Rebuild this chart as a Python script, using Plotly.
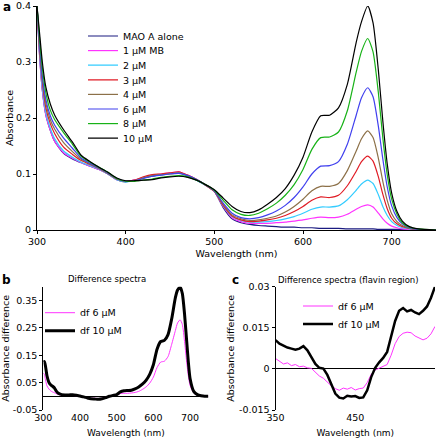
import plotly.graph_objects as go

# ---------------- Panel a data ----------------
wl_a = [300, 303, 306, 310, 315, 320, 330, 340, 350, 360, 370, 380, 390, 400, 410, 420, 430, 440, 450, 460, 470, 480, 490,
        500, 510, 520, 530, 540, 550, 560, 570, 580, 590, 600, 610, 620, 630, 640, 650, 660, 666, 673, 679, 685, 690, 695,
        700, 706, 712, 720, 730, 750]

mao_alone = [0.40, 0.31, 0.25, 0.205, 0.178, 0.158, 0.137, 0.127, 0.12, 0.114, 0.108, 0.1, 0.09, 0.086, 0.089, 0.093, 0.096, 0.099, 0.101, 0.102, 0.097, 0.089, 0.08,
             0.069, 0.04, 0.02, 0.013, 0.01, 0.008, 0.007, 0.006, 0.005, 0.005, 0.004, 0.004, 0.003, 0.003, 0.003, 0.002, 0.002, 0.002, 0.002, 0.002, 0.001, 0.001, 0.001,
             0.001, 0.001, 0.001, 0.001, 0.0, 0.0]
mb_1 = [0.40, 0.31, 0.25, 0.205, 0.178, 0.158, 0.138, 0.128, 0.12, 0.114, 0.108, 0.1, 0.09, 0.087, 0.089, 0.094, 0.098, 0.1, 0.102, 0.104, 0.098, 0.09, 0.081,
        0.069, 0.042, 0.022, 0.015, 0.012, 0.012, 0.012, 0.013, 0.014, 0.016, 0.018, 0.021, 0.023, 0.022, 0.023, 0.028, 0.037, 0.042, 0.045, 0.041, 0.03, 0.02, 0.012,
        0.007, 0.004, 0.002, 0.001, 0.0, 0.0]
mb_2 = [0.40, 0.315, 0.255, 0.21, 0.182, 0.163, 0.141, 0.13, 0.121, 0.115, 0.109, 0.1, 0.09, 0.086, 0.088, 0.093, 0.097, 0.099, 0.101, 0.102, 0.097, 0.089, 0.08,
        0.069, 0.043, 0.024, 0.017, 0.014, 0.014, 0.015, 0.017, 0.02, 0.024, 0.03, 0.037, 0.041, 0.041, 0.043, 0.054, 0.071, 0.082, 0.089, 0.083, 0.063, 0.042, 0.026,
        0.015, 0.008, 0.004, 0.002, 0.001, 0.0]
mb_3 = [0.40, 0.32, 0.265, 0.218, 0.19, 0.172, 0.148, 0.135, 0.124, 0.117, 0.11, 0.101, 0.091, 0.087, 0.089, 0.095, 0.099, 0.1, 0.102, 0.104, 0.098, 0.09, 0.08,
        0.069, 0.044, 0.025, 0.018, 0.015, 0.016, 0.018, 0.021, 0.026, 0.033, 0.042, 0.053, 0.059, 0.058, 0.062, 0.079, 0.105, 0.122, 0.132, 0.123, 0.095, 0.064, 0.038,
        0.021, 0.011, 0.006, 0.003, 0.001, 0.0]
mb_4 = [0.40, 0.325, 0.27, 0.226, 0.197, 0.18, 0.156, 0.14, 0.126, 0.118, 0.11, 0.101, 0.091, 0.087, 0.088, 0.093, 0.097, 0.099, 0.1, 0.102, 0.097, 0.09, 0.081,
        0.07, 0.046, 0.027, 0.02, 0.017, 0.018, 0.021, 0.025, 0.032, 0.042, 0.055, 0.07, 0.078, 0.078, 0.083, 0.106, 0.141, 0.163, 0.177, 0.165, 0.128, 0.087, 0.053,
        0.029, 0.015, 0.008, 0.003, 0.001, 0.0]
mb_6 = [0.40, 0.33, 0.275, 0.233, 0.204, 0.187, 0.164, 0.146, 0.128, 0.119, 0.111, 0.102, 0.092, 0.087, 0.088, 0.092, 0.096, 0.098, 0.1, 0.101, 0.097, 0.09, 0.081,
        0.07, 0.048, 0.03, 0.022, 0.02, 0.022, 0.027, 0.034, 0.044, 0.058, 0.077, 0.1, 0.114, 0.115, 0.122, 0.153, 0.205, 0.236, 0.254, 0.238, 0.185, 0.127, 0.077,
        0.043, 0.022, 0.011, 0.004, 0.001, 0.0]
mb_8 = [0.40, 0.34, 0.29, 0.245, 0.214, 0.197, 0.174, 0.153, 0.131, 0.121, 0.112, 0.103, 0.092, 0.087, 0.087, 0.089, 0.091, 0.094, 0.096, 0.097, 0.095, 0.089, 0.081,
        0.071, 0.053, 0.036, 0.028, 0.026, 0.03, 0.038, 0.048, 0.062, 0.081, 0.108, 0.144, 0.165, 0.166, 0.175, 0.213, 0.282, 0.319, 0.342, 0.318, 0.245, 0.165, 0.099,
        0.055, 0.028, 0.013, 0.005, 0.002, 0.0]
mb_10 = [0.40, 0.35, 0.3, 0.255, 0.225, 0.205, 0.179, 0.157, 0.133, 0.122, 0.112, 0.103, 0.093, 0.088, 0.088, 0.089, 0.09, 0.093, 0.095, 0.096, 0.094, 0.089, 0.081,
         0.072, 0.057, 0.042, 0.033, 0.031, 0.036, 0.046, 0.058, 0.074, 0.098, 0.13, 0.175, 0.204, 0.205, 0.218, 0.26, 0.335, 0.372, 0.4, 0.37, 0.285, 0.195, 0.118,
         0.066, 0.033, 0.016, 0.006, 0.002, 0.0]

names_a = ["MAO A alone", "1 µM MB", "2 µM", "3 µM", "4 µM", "6 µM", "8 µM", "10 µM"]
series_a = [mao_alone, mb_1, mb_2, mb_3, mb_4, mb_6, mb_8, mb_10]
colors_a = ["#1a1a80", "#ff33ff", "#33ccff", "#e01b24", "#8c7048", "#4040ee", "#17b217", "#000000"]

# ---------------- Panel b data ----------------
wl_b = [300, 303, 306, 310, 315, 320, 325, 330, 335, 340, 350, 360, 370, 380, 390, 400, 410, 420, 430, 440, 450, 460, 470, 480, 490,
        500, 510, 520, 530, 540, 550, 560, 570, 580, 590, 600, 610, 620, 630, 640, 650, 660, 666, 673, 679, 685, 690, 695, 700,
        710, 720, 730, 740, 750]
df6_b = [0.085, 0.08, 0.06, 0.038, 0.027, 0.02, 0.016, 0.013, 0.01, 0.007, 0.004, 0.003, 0.003, 0.003, 0.002, 0.0, -0.003, -0.006, -0.007, -0.007, -0.008, -0.007, -0.003, 0.0, 0.002,
         0.005, 0.01, 0.011, 0.011, 0.012, 0.014, 0.018, 0.025, 0.034, 0.048, 0.07, 0.105, 0.125, 0.128, 0.145, 0.19, 0.24, 0.268, 0.279, 0.262, 0.2, 0.135, 0.078, 0.04,
         0.012, 0.004, 0.001, 0.0, 0.0]
df10_b = [0.125, 0.127, 0.11, 0.075, 0.052, 0.042, 0.037, 0.031, 0.02, 0.012, 0.006, 0.005, 0.005, 0.006, 0.004, 0.001, -0.002, -0.006, -0.009, -0.01, -0.011, -0.009, -0.005, 0.0, 0.003,
          0.006, 0.016, 0.02, 0.021, 0.022, 0.027, 0.034, 0.044, 0.058, 0.08, 0.115, 0.172, 0.2, 0.204, 0.225, 0.283, 0.36, 0.388, 0.398, 0.375, 0.3, 0.215, 0.13, 0.065,
          0.018, 0.006, 0.002, 0.0, 0.0]

# ---------------- Panel c data ----------------
wl_c = [350, 355, 360, 365, 370, 375, 380, 385, 390, 395, 400, 405, 410, 415, 420, 425, 430, 435, 440, 445, 450,
        455, 460, 465, 470, 475, 480, 485, 490, 495, 500, 505, 510, 515, 520, 525, 530, 535, 540, 545, 550]
df6_c = [0.0038, 0.0028, 0.0018, 0.0022, 0.0012, 0.0016, 0.0008, 0.0010, 0.0004, 0.0002, -0.0012, -0.0026, -0.0034, -0.0048, -0.0062, -0.0072, -0.0078, -0.0070, -0.0074, -0.0068, -0.0077,
         -0.0072, -0.0070, -0.0050, -0.0020, -0.0004, 0.0002, 0.0008, 0.0016, 0.0050, 0.0092, 0.0118, 0.0130, 0.0134, 0.0132, 0.0120, 0.0112, 0.0106, 0.0112, 0.0128, 0.0155]
df10_c = [0.0105, 0.0092, 0.0085, 0.0078, 0.0074, 0.0070, 0.0074, 0.0083, 0.0068, 0.0042, 0.0018, 0.0004, 0.0001, -0.0022, -0.0058, -0.0090, -0.0105, -0.0108, -0.0098, -0.0101, -0.0099,
          -0.0106, -0.0104, -0.0078, -0.0030, 0.0004, 0.0024, 0.0040, 0.0062, 0.0120, 0.0175, 0.0212, 0.0222, 0.0210, 0.0215, 0.0206, 0.0200, 0.0212, 0.0228, 0.0260, 0.0300]

W, H = 444, 438
FONT = "DejaVu Sans"


def px(v):
    return v / W


def py(v):
    return 1 - v / H


fig = go.Figure()

legend_font = dict(family=FONT, size=9.5, color="black")

# panel a traces, each in its own legend for tight spacing
legend_y_a = [36, 50.6, 65.2, 79.8, 94.4, 109, 123.6, 138.2]
for i, (nm, ys, col) in enumerate(zip(names_a, series_a, colors_a)):
    lg = "legend" if i == 0 else f"legend{i + 1}"
    fig.add_trace(go.Scatter(x=wl_a, y=ys, mode="lines", name=nm, legend=lg, showlegend=True,
                             line=dict(color=col, width=1.2, shape="spline", smoothing=0.6),
                             xaxis="x", yaxis="y"))
    fig.layout[lg] = dict(x=px(83), y=py(legend_y_a[i]), xanchor="left", yanchor="middle",
                          bgcolor="rgba(0,0,0,0)", font=legend_font, itemwidth=30, tracegroupgap=0)

# panel b
fig.add_trace(go.Scatter(x=wl_b, y=df6_b, mode="lines", name="df 6 µM", legend="legend9",
                         line=dict(color="#ff33ff", width=1, shape="spline", smoothing=0.6), xaxis="x2", yaxis="y2"))
fig.add_trace(go.Scatter(x=wl_b, y=df10_b, mode="lines", name="df 10 µM", legend="legend10",
                         line=dict(color="black", width=3, shape="spline", smoothing=0.6), xaxis="x2", yaxis="y2"))
# panel c
fig.add_trace(go.Scatter(x=wl_c, y=df6_c, mode="lines", name="df 6 µM", legend="legend11",
                         line=dict(color="#ff33ff", width=1), xaxis="x3", yaxis="y3"))
fig.add_trace(go.Scatter(x=wl_c, y=df10_c, mode="lines", name="df 10 µM", legend="legend12",
                         line=dict(color="black", width=2.5), xaxis="x3", yaxis="y3"))

for lg, xx, yy in [("legend9", 40, 312.7), ("legend10", 40, 330.7), ("legend11", 298, 306), ("legend12", 298, 324)]:
    fig.layout[lg] = dict(x=px(xx), y=py(yy), xanchor="left", yanchor="middle",
                          bgcolor="rgba(0,0,0,0)", font=legend_font, itemwidth=30, tracegroupgap=0)

tickfont = dict(family=FONT, size=9.5, color="black")
common_ax = dict(showgrid=False, automargin=False, tickfont=tickfont, linecolor="black", linewidth=1,
                 tickcolor="black")

fig.update_layout(
    width=W, height=H, margin=dict(l=0, r=0, t=0, b=0), showlegend=True,
    paper_bgcolor="white", plot_bgcolor="white",
    font=dict(family=FONT, size=9.5, color="black"),
    xaxis=dict(domain=[px(37), px(436)], anchor="y", range=[300, 750], tickvals=[300, 400, 500, 600, 700],
               showline=True, ticks="outside", ticklen=3, zeroline=False,
               title=dict(text="Wavelength (nm)", font=dict(family=FONT, size=9.5), standoff=3), **common_ax),
    yaxis=dict(domain=[py(230), py(6)], anchor="x", range=[0, 0.4], tickvals=[0, 0.1, 0.2, 0.3, 0.4],
               ticktext=["0", "0.1", "0.2", "0.3", "0.4"], showline=True, ticks="outside", ticklen=3, zeroline=False,
               title=dict(text="Absorbance", font=dict(family=FONT, size=9.5), standoff=0), **common_ax),
    xaxis2=dict(domain=[px(43.3), px(208.4)], anchor="y2", range=[300, 750], tickvals=[300, 400, 500, 600, 700],
                showline=False, ticks="", zeroline=False,
                title=dict(text="Wavelength (nm)", font=dict(family=FONT, size=9), standoff=8), **common_ax),
    yaxis2=dict(domain=[py(410), py(286.7)], anchor="x2", range=[-0.05, 0.40],
                tickvals=[-0.05, 0.05, 0.15, 0.25, 0.35], ticktext=["-0.05", "0.05", "0.15", "0.25", "0.35"],
                showline=True, ticks="outside", ticklen=3, zeroline=True, zerolinecolor="black", zerolinewidth=1,
                title=dict(text="Absorbance difference", font=dict(family=FONT, size=9.5), standoff=2), **common_ax),
    xaxis3=dict(domain=[px(275.5), px(435)], anchor="y3", range=[350, 550], tickvals=[350, 450, 550],
                showline=False, ticks="", zeroline=False,
                title=dict(text="Wavelength (nm)", font=dict(family=FONT, size=9), standoff=8), **common_ax),
    yaxis3=dict(domain=[py(410), py(286.7)], anchor="x3", range=[-0.015, 0.03],
                tickvals=[-0.015, 0, 0.015, 0.03], ticktext=["-0.015", "0", "0.015", "0.03"],
                showline=True, ticks="outside", ticklen=3, zeroline=True, zerolinecolor="black", zerolinewidth=1,
                title=dict(text="Absorbance difference", font=dict(family=FONT, size=9.5), standoff=2), **common_ax),
    annotations=[
        dict(text="<b>a</b>", x=px(7), y=py(7), xref="paper", yref="paper", showarrow=False,
             font=dict(family=FONT, size=12), xanchor="center", yanchor="middle"),
        dict(text="<b>b</b>", x=px(6), y=py(280), xref="paper", yref="paper", showarrow=False,
             font=dict(family=FONT, size=12), xanchor="center", yanchor="middle"),
        dict(text="<b>c</b>", x=px(235), y=py(280), xref="paper", yref="paper", showarrow=False,
             font=dict(family=FONT, size=12), xanchor="center", yanchor="middle"),
        dict(text="Difference spectra", x=px(107), y=py(279), xref="paper", yref="paper", showarrow=False,
             font=dict(family=FONT, size=8.5), xanchor="center", yanchor="middle"),
        dict(text="Difference spectra (flavin region)", x=px(348), y=py(280), xref="paper", yref="paper",
             showarrow=False, font=dict(family=FONT, size=8.5), xanchor="center", yanchor="middle"),
    ],
)

fig.write_html("out.html", config={"displayModeBar": False},
               post_script="document.body.style.margin='0';")
